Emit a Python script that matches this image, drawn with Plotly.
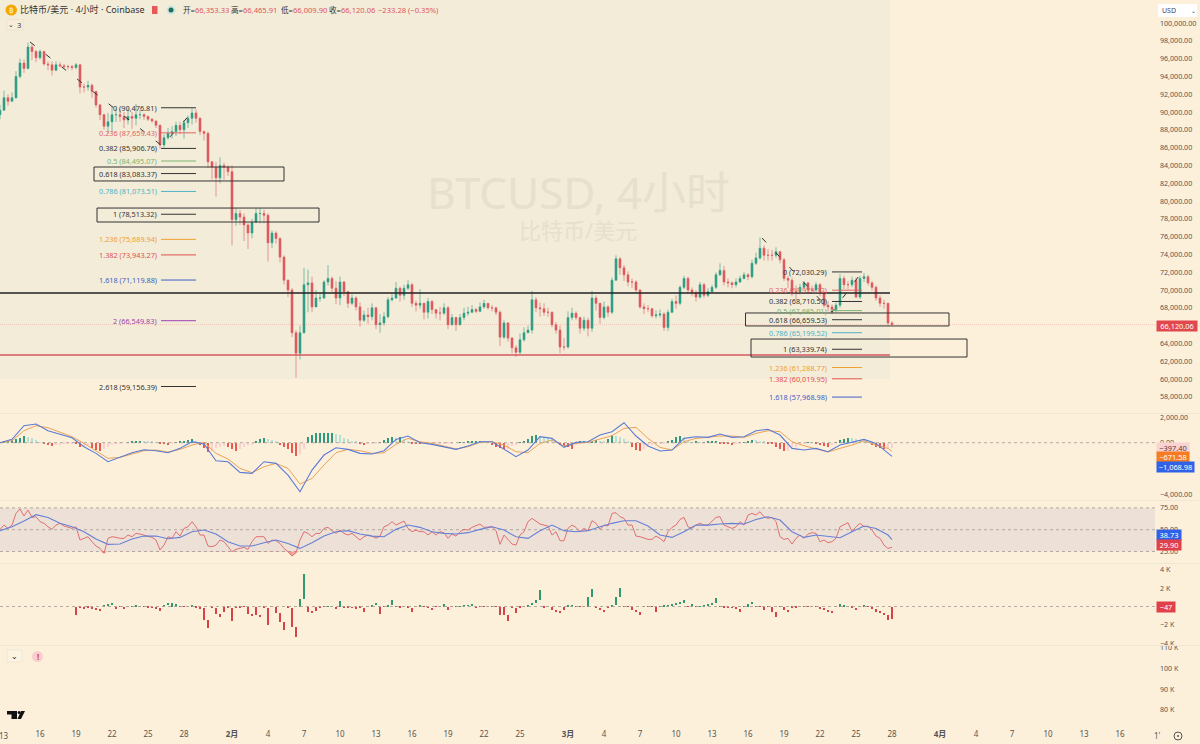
import numpy as np
import pandas as pd
import plotly.graph_objects as go

BG = "#fdf0db"
FONT = "Noto Sans, Noto Sans CJK SC"

# ---------- data: 8-hour candles (thousand USD) ----------
close_k = [
 90.2,91.6,91.2,91.6,94.0,95.5,94.9,97.3,96.8,96.1,
 96.8,95.4,95.3,94.7,95.3,95.2,95.1,95.1,95.0,95.3,
 92.8,92.8,93.0,92.3,90.8,89.7,88.4,88.9,89.7,89.7,
 89.5,89.1,89.5,89.3,89.7,89.7,89.5,89.2,89.0,88.5,
 86.3,87.1,87.6,87.8,88.5,88.0,88.8,89.3,89.9,89.3,
 87.8,87.6,84.4,83.8,82.6,84.0,83.8,83.3,77.9,78.6,
 78.2,77.3,76.4,77.6,78.6,78.6,78.4,75.3,76.4,75.8,
 73.7,71.1,70.0,65.2,62.9,65.2,70.6,70.8,68.1,69.1,
 69.1,70.9,71.3,70.2,69.1,70.9,69.8,68.5,69.1,68.1,
 66.6,67.2,67.0,68.0,66.1,66.3,67.0,68.9,69.1,70.2,
 69.4,70.2,70.6,68.5,68.3,68.5,67.5,68.7,67.8,67.4,
 67.4,68.0,66.1,66.9,66.1,66.9,67.4,67.5,67.8,67.6,
 68.1,68.5,68.0,68.0,67.5,64.7,66.3,64.6,63.5,63.0,
 64.4,65.2,65.5,68.9,68.0,67.9,67.5,67.5,66.1,65.5,
 63.6,63.6,66.9,67.4,66.9,65.7,66.6,65.7,69.1,68.5,
 66.9,68.1,67.5,71.1,73.5,72.5,71.7,70.9,70.9,70.0,
 68.1,67.9,67.9,67.1,67.2,67.3,65.8,67.5,68.7,68.5,
 70.3,71.3,70.0,69.7,69.2,70.6,69.4,69.8,70.3,71.7,
 72.2,70.9,70.8,70.6,70.9,71.3,71.7,71.5,73.0,73.6,
 74.7,73.9,73.9,73.9,74.3,73.4,71.3,71.1,69.8,69.8,
 70.3,70.8,70.0,70.0,70.6,69.7,68.3,68.1,67.8,68.3,
 71.3,70.6,70.6,71.1,69.2,71.3,71.5,70.8,70.3,69.1,
 68.5,68.5,66.3,66.12]
high_k = [
 90.8,92.4,92.0,92.2,94.6,96.0,95.9,97.8,97.6,97.0,
 97.0,96.9,95.7,95.7,95.7,95.6,95.4,95.3,95.3,95.5,
 95.4,93.2,93.5,93.2,92.4,90.9,89.8,89.9,90.6,90.4,
 90.3,90.0,90.5,90.0,90.9,90.2,89.9,89.6,89.3,89.0,
 88.6,87.5,88.2,88.4,88.9,88.9,89.1,89.6,90.4,90.3,
 89.4,87.9,87.8,84.5,84.4,84.9,84.3,84.0,84.0,79.2,
 79.0,78.6,77.5,78.0,79.2,79.2,79.0,78.6,76.7,76.6,
 75.9,73.9,71.2,70.2,65.5,66.0,72.5,72.3,71.5,70.0,
 69.7,71.1,72.8,71.5,71.0,71.5,71.0,69.9,69.5,69.3,
 68.6,67.7,68.0,68.5,68.1,67.3,67.5,69.2,69.6,70.9,
 70.4,70.6,71.1,70.8,68.8,70.1,68.6,69.1,68.9,67.8,
 68.1,68.5,68.2,67.3,67.0,67.3,68.0,68.1,68.3,68.0,
 68.6,68.9,68.5,68.3,68.1,67.7,66.6,66.4,64.7,63.8,
 65.1,65.8,66.0,69.9,69.2,68.6,68.5,68.0,67.6,66.4,
 66.0,64.6,67.6,68.0,67.6,67.0,67.0,66.9,69.9,69.4,
 68.6,68.7,68.3,71.4,73.9,73.7,72.8,72.1,71.3,71.1,
 70.1,68.5,68.3,68.0,67.7,67.8,67.5,67.8,69.0,69.4,
 70.5,71.6,71.5,70.3,70.0,70.9,70.8,70.2,70.6,72.0,
 73.0,72.7,71.3,71.0,71.3,71.6,72.0,71.9,73.4,74.2,
 75.9,75.0,74.6,74.5,74.8,74.4,73.6,71.6,71.4,70.5,
 70.7,71.0,70.9,70.5,70.9,70.8,69.9,68.7,68.4,68.6,
 71.8,71.6,71.0,71.5,71.4,71.6,71.9,71.7,71.0,70.5,
 69.4,68.9,68.6,66.5]
low_k = [
 89.2,90.9,90.7,91.2,91.5,93.8,94.4,94.8,95.8,95.6,
 95.9,95.2,94.7,94.1,94.6,95.0,94.9,94.8,94.7,94.8,
 92.1,92.2,92.4,91.6,90.5,89.1,88.0,87.6,87.7,88.9,
 88.9,88.2,88.6,88.1,88.5,89.2,89.1,89.0,88.8,88.2,
 85.9,86.0,86.9,87.0,87.3,87.5,87.0,88.2,88.6,88.8,
 87.4,86.8,83.7,82.4,80.5,82.0,82.4,82.8,75.0,77.2,
 77.3,75.5,74.6,75.8,77.8,77.5,77.5,73.2,74.7,75.2,
 73.1,70.6,69.2,64.7,60.1,62.2,65.1,67.5,67.5,68.2,
 68.7,69.0,70.5,69.7,68.4,68.3,69.3,68.0,68.3,67.7,
 65.9,66.4,66.2,66.6,65.6,65.2,66.0,66.8,68.7,69.0,
 68.7,68.9,70.0,68.1,67.6,67.9,66.7,66.8,67.3,66.8,
 66.6,67.2,65.6,66.0,65.4,66.0,66.6,67.1,67.4,67.4,
 67.5,67.9,67.8,67.6,67.2,63.7,64.5,64.2,62.9,62.5,
 62.8,64.2,65.2,65.1,67.5,67.0,67.1,67.0,65.8,65.1,
 62.9,63.2,63.4,66.6,66.6,65.1,65.4,64.8,65.3,67.7,
 66.2,66.7,67.0,67.3,71.2,71.7,71.0,70.4,70.2,69.7,
 67.9,67.3,67.5,66.9,66.8,66.9,65.4,65.4,67.4,67.9,
 68.3,70.1,69.6,69.3,68.7,69.0,69.1,69.2,69.9,70.1,
 71.6,70.5,70.3,70.2,70.3,70.8,71.2,71.1,71.3,72.8,
 73.4,73.3,73.3,73.3,73.6,73.0,71.0,70.2,69.3,68.9,
 69.5,70.1,69.6,69.6,69.8,69.3,68.0,67.6,67.3,67.5,
 68.0,70.1,70.1,70.3,69.1,69.0,70.9,70.5,69.9,68.8,
 68.1,67.9,66.0,66.0]
first_open_k = 89.7

# MACD (daily samples, last point = latest bar)
macd_line = [
 0,260,1326,1456,936,676,390,-312,-832,-1482,
 -1144,-780,-546,-624,-780,-442,78,-104,-1404,-1482,
 -2314,-2392,-1482,-1612,-2522,-3822,-2132,-962,-390,-520,
 -832,-884,-624,260,520,0,-130,-312,-520,-260,
 78,78,-520,-1092,-572,468,338,-364,26,78,
 598,858,1560,520,-260,-650,-572,338,468,416,
 676,416,468,936,1040,598,-442,-572,-442,-702,
 -182,26,260,-52,-780,-1068.98]
macd_signal = [
 0,156,936,1326,1170,806,468,-52,-624,-1222,
 -1144,-884,-624,-572,-728,-520,-182,26,-832,-1274,
 -2002,-2340,-1872,-1612,-2002,-3224,-2782,-1742,-780,-520,
 -624,-832,-780,-130,338,78,-52,-260,-494,-312,
 26,78,-182,-702,-780,-52,208,-260,-52,26,
 260,546,1118,1196,338,-364,-572,78,338,416,
 520,520,416,728,936,858,78,-234,-468,-728,
 -442,-182,156,-182,-442,-671.58]
macd_hist = [
 52,78,130,208,286,364,520,468,364,208,
 52,-78,-208,-286,-208,-156,-104,-78,-78,-104,
 -312,-260,-208,-416,-572,-624,-520,-312,-208,-104,
 -78,0,52,104,130,156,130,104,78,52,
 -52,-104,-208,-78,52,78,156,208,286,156,
 -156,-416,-702,-624,-416,-312,-260,-364,-468,-624,
 -468,-312,-208,-156,104,260,364,312,208,78,
 -208,-312,-468,-780,-1040,-910,-520,468,572,728,
 728,728,728,780,650,572,390,312,156,78,
 -104,-156,-104,-52,-26,52,208,364,416,364,
 468,312,156,-52,-104,-130,-130,-104,-156,-130,
 -104,-104,-78,-52,0,26,52,104,104,130,
 156,130,52,-156,-364,-416,-468,-468,-260,-156,
 52,104,260,520,572,520,468,364,260,52,
 -156,-260,-364,-468,-156,78,104,78,156,208,
 156,130,312,572,520,416,260,104,-364,-572,
 -624,-468,-260,-156,-104,-78,-78,78,208,416,
 520,364,104,52,78,52,52,78,78,104,
 -52,-78,-104,-208,-104,-52,52,156,208,182,
 130,78,-26,-104,-312,-520,-624,-624,-520,-364,
 -104,-78,52,26,-130,-208,-260,-312,-156,52,
 208,312,390,364,260,156,104,26,-156,-364,
 -416,-468,-416,-397.4]

# RSI (8-hour samples) and its moving average (daily samples)
rsi = [
 50.4,55.3,51.5,55.3,68.7,73.7,65.7,72.5,64.1,64.9,
 59.2,57.3,53.4,50.4,55.3,57.3,54.2,52.7,51.5,53.4,
 38.2,40.1,42.0,36.3,31.3,28.6,22.9,40.1,42.0,41.2,
 40.1,40.1,43.9,42.0,45.8,45.0,43.5,42.7,41.2,38.2,
 26.7,32.4,42.0,40.1,47.7,42.7,51.5,53.4,59.2,53.4,
 43.9,43.9,31.3,30.5,32.4,38.2,36.3,30.5,24.8,27.5,
 28.6,29.8,27.5,36.3,42.0,42.0,42.0,34.3,38.2,37.4,
 34.3,28.6,24.8,19.8,23.6,38.2,47.7,45.8,42.0,45.8,
 45.8,51.5,52.7,48.9,45.8,49.6,45.8,43.9,45.8,42.0,
 38.2,42.0,43.9,42.7,40.1,42.7,53.4,55.3,59.2,55.3,
 58.0,59.9,51.5,47.7,49.6,47.7,47.7,43.9,47.7,43.9,
 47.7,46.6,40.1,45.0,42.7,47.7,50.4,49.6,52.7,54.2,
 56.5,52.7,52.7,53.4,48.9,33.2,43.9,38.2,33.6,32.4,
 43.9,47.7,59.2,63.0,59.2,56.5,55.3,54.2,43.9,47.7,
 37.4,37.4,51.5,55.3,52.7,47.7,51.5,48.9,60.3,57.3,
 50.4,55.3,54.2,68.7,69.5,64.9,63.0,55.3,55.3,42.7,
 42.0,40.1,38.9,38.9,42.7,40.1,36.3,47.7,52.7,55.3,
 61.8,64.1,53.4,51.5,55.3,57.3,55.3,55.3,59.2,64.1,
 64.9,55.3,53.4,51.5,53.4,59.2,55.3,66.8,68.7,66.8,
 70.6,64.9,63.0,64.1,59.2,42.0,38.9,40.1,33.6,40.1,
 43.9,40.1,45.0,46.6,45.8,36.3,38.2,35.1,36.3,40.1,
 53.4,55.3,58.0,47.7,53.4,57.3,53.4,54.2,49.6,42.7,
 40.1,32.4,28.5,29.9]
rsi_ma = [
 48.9,53.4,59.9,67.2,64.1,57.3,53.4,47.7,39.3,33.2,
 33.6,39.3,42.7,42.7,39.7,41.2,47.7,49.6,45.0,36.3,
 31.3,31.3,35.1,38.2,34.3,28.6,35.1,42.7,47.7,48.9,
 45.0,42.7,42.0,50.4,55.3,52.7,47.7,45.8,45.0,46.6,
 50.4,53.4,49.6,42.0,40.1,48.9,55.3,48.9,47.7,48.9,
 53.4,57.3,60.3,60.3,54.2,43.9,41.2,47.7,55.3,55.3,
 56.5,57.3,56.5,61.8,64.9,61.1,47.7,41.2,43.9,42.7,
 40.8,47.7,54.2,51.5,43.9,38.73]

# CVD-style cumulative delta per 8-hour bar, from Jan 15 onward
cvd = [
 0,-874,-109,-218,-146,-218,-291,-400,146,255,400,-255,-36,-291,-36,36,109,-36,-36,-73,
 -109,-218,-546,182,400,400,255,-36,-36,36,73,-109,-182,-1492,-2400,-109,-837,-1201,-582,-109,
 -1565,-109,-109,-36,-837,-1056,-946,-1128,-109,-2038,-36,-764,-1674,-2584,-218,-2220,-3312,874,3604,-582,
 -655,-546,-218,-36,36,-36,-255,619,-109,-109,-146,-218,-109,-582,-36,146,400,-837,-36,218,
 692,-36,-109,36,-109,-582,-36,146,-36,-218,-400,-36,-36,255,-400,-36,-36,36,73,146,
 218,-109,-36,-36,-36,-36,-36,-946,-946,-1565,-218,-764,-218,-36,146,400,692,1784,-109,-36,
 -328,-582,-764,-400,146,146,-36,-36,-36,1056,1966,-218,-400,-582,-109,146,1056,2075,-36,-36,
 -328,-582,-946,-36,-36,-36,-582,36,146,146,255,328,400,692,-36,328,-36,36,146,218,
 400,946,-36,-109,-109,-146,-255,-619,-36,255,510,-36,-36,-328,-36,-582,-1201,-36,-400,-582,
 -218,-109,-36,-36,-36,36,-36,-255,-328,-582,-764,-36,328,146,-36,-218,-400,36,218,-36,
 -255,-582,-764,-946,-1492,-1420]

# Fibonacci levels
fib_a_ratio = ["0","0.236","0.382","0.5","0.618","0.786","1","1.236","1.382","1.618","2","2.618"]
fib_a_price = [90476.81,87659.43,85906.76,84495.07,83083.37,81073.51,78513.32,75689.94,73943.27,71119.88,66549.83,59156.39]
fib_a_color = ["#333333","#e06666","#333333","#7cb56e","#333333","#4fb3c4","#333333","#f0a030","#e05050","#3f5fc8","#9c3fb0","#333333"]
fib_b_ratio = ["0","0.236","0.382","0.5","0.618","0.786","1","1.236","1.382","1.618"]
fib_b_price = [72030.29,69979.32,68710.50,67685.01,66659.53,65199.52,63339.74,61288.77,60019.95,57968.98]
fib_b_color = ["#333333","#e06666","#333333","#7cb56e","#333333","#4fb3c4","#333333","#f0a030","#e05050","#3f5fc8"]
fib_a_span = ["2026-01-26 02:00","2026-01-29 00:00"]
fib_b_span = ["2026-03-23 00:00","2026-03-25 12:00"]

# Drawn levels and boxes
level_black = 69663
level_red = 62697
drawn_end = "2026-03-27 20:00"
boxes_x0 = ["2026-01-20 12:00","2026-01-20 18:00","2026-03-15 19:00","2026-03-16 06:00"]
boxes_x1 = ["2026-02-05 08:00","2026-02-08 06:00","2026-04-01 18:00","2026-04-03 06:00"]
boxes_p0 = [82250,77640,65960,62470]
boxes_p1 = [83820,79210,67420,64490]
swing_a_t = ["2026-01-15 04:00","2026-01-26 04:00","2026-01-29 00:00"]
swing_a_p = [97870,86200,90477]
swing_b_t = ["2026-03-17 04:00","2026-03-23 00:00","2026-03-25 12:00"]
swing_b_p = [75840,67500,72030]

last_price = 66120.06

# Time axis ticks
tick_dates = ["2026-01-16","2026-01-19","2026-01-22","2026-01-25","2026-01-28",
              "2026-02-01","2026-02-04","2026-02-07","2026-02-10","2026-02-13","2026-02-16",
              "2026-02-19","2026-02-22","2026-02-25",
              "2026-03-01","2026-03-04","2026-03-07","2026-03-10","2026-03-13","2026-03-16",
              "2026-03-19","2026-03-22","2026-03-25","2026-03-28",
              "2026-04-01","2026-04-04","2026-04-07","2026-04-10","2026-04-13","2026-04-16"]
tick_text = ["16","19","22","25","28","<b>2月</b>","4","7","10","13","16","19","22","25",
             "<b>3月</b>","4","7","10","13","16","19","22","25","28","<b>4月</b>","4","7","10","13","16"]

# ---------- derived ----------
close = np.array(close_k) * 1000
high = np.array(high_k) * 1000
low = np.array(low_k) * 1000
open_ = np.r_[first_open_k * 1000, close[:-1]]
t8 = pd.date_range("2026-01-12 16:00", periods=len(close), freq="8h")
tday = list(pd.date_range("2026-01-12 16:00", periods=len(macd_line) - 1, freq="24h")) + [t8[-1]]

hist = np.array(macd_hist, float)
hprev = np.r_[0, hist[:-1]]
hcol = ["#2f9a80" if h >= 0 and h >= p else "#b5e0d6" if h >= 0 else "#ea5a50" if h < p else "#fbd0d0"
        for h, p in zip(hist, hprev)]

cv = np.array(cvd, float)
cprev = np.r_[0, cv[:-1]]
cbase = np.where((np.sign(cv) == np.sign(cprev)) & (np.abs(cv) > np.abs(cprev)), cprev, 0)
ccol = ["#2f9a70" if c > b else "#d8434a" for c, b in zip(cv, cbase)]
tc = t8[-len(cv):]

X0 = pd.Timestamp("2026-01-12 16:00")
X1 = pd.Timestamp("2026-04-18 22:00")

def px(x): return x / 1200
def py(y): return 1 - y / 744
def dom(a, b): return [py(b), py(a)]

fig = go.Figure()

# main pane
def seg(x, y, color, width=1, dash=None, yaxis="y"):
    fig.add_trace(go.Scatter(x=x, y=y, mode="lines", yaxis=yaxis, hoverinfo="skip", showlegend=False,
                             line=dict(color=color, width=width, dash=dash)))

seg([X0, X1], [last_price] * 2, "rgba(224,90,90,0.4)", 0.6, "1px,1px")
seg(swing_a_t, swing_a_p, "#333333", 1, "6px,14px")
seg(swing_b_t, swing_b_p, "#333333", 1, "6px,14px")

fig.add_trace(go.Candlestick(x=t8, open=open_, high=high, low=low, close=close, yaxis="y", showlegend=False,
    increasing=dict(line=dict(color="#2f9e85", width=0.6), fillcolor="#2f9e85"),
    decreasing=dict(line=dict(color="#dd5a5e", width=0.6), fillcolor="#dd5a5e"), whiskerwidth=0))

for p, c in zip(fib_a_price, fib_a_color):
    seg(fib_a_span, [p, p], c, 1)
for p, c in zip(fib_b_price, fib_b_color):
    seg(fib_b_span, [p, p], c, 1)
seg([X0, drawn_end], [level_black] * 2, "#222222", 1.4)
seg([X0, drawn_end], [level_red] * 2, "#d9575f", 1.7)

# MACD pane
fig.add_trace(go.Bar(x=t8, y=hist, yaxis="y2", marker=dict(color=hcol, line=dict(width=0)),
                     width=1000 * 3600 * 4, showlegend=False, hoverinfo="skip"))
seg([X0, X1], [0, 0], "#aaa39a", 0.9, "3px,3px", "y2")
seg(tday, macd_signal, "#e8a35a", 1, None, "y2")
seg(tday, macd_line, "#5a7bd6", 1.1, None, "y2")

# RSI pane
fig.add_trace(go.Scatter(x=[X0, X1, X1, X0], y=[25, 25, 75, 75], fill="toself", yaxis="y3", mode="none",
                         fillcolor="#ede1d7", showlegend=False, hoverinfo="skip"))
for lv in (75, 50, 25):
    seg([X0, X1], [lv, lv], "#aaa39a", 0.9, "3px,3px", "y3")
fig.add_trace(go.Scatter(x=t8, y=[25] * len(t8), mode="lines", line=dict(width=0), yaxis="y3",
                         showlegend=False, hoverinfo="skip"))
fig.add_trace(go.Scatter(x=t8, y=np.minimum(rsi, 25), mode="lines", line=dict(width=0), yaxis="y3", fill="tonexty",
                         fillcolor="rgba(224,70,70,0.45)", showlegend=False, hoverinfo="skip"))
seg(t8, rsi, "#e07070", 1, None, "y3")
seg(tday, rsi_ma, "#6680d8", 1.1, None, "y3")

# CVD pane
seg([X0, X1], [0, 0], "#aaa39a", 0.9, "3px,3px", "y4")
fig.add_trace(go.Bar(x=tc, y=cv - cbase, base=cbase, yaxis="y4", marker=dict(color=ccol, line=dict(width=0)),
                     width=1000 * 3600 * 4.5, showlegend=False, hoverinfo="skip"))

# empty pane carrying only its scale
fig.add_trace(go.Scatter(x=[X0], y=[90], yaxis="y5", mode="none", showlegend=False, hoverinfo="skip"))

tickf = dict(family=FONT, size=7.1, color="#555555")
common = dict(side="right", anchor="x", showgrid=False, zeroline=False, showline=False, ticks="",
              tickfont=tickf, fixedrange=True, ticklabelstandoff=4)

fig.update_layout(
    width=1200, height=744, autosize=False, margin=dict(l=0, r=0, t=0, b=0, pad=0, autoexpand=False),
    paper_bgcolor=BG, plot_bgcolor=BG, showlegend=False, barmode="overlay", bargap=0,
    font=dict(family=FONT),
    xaxis=dict(type="date", domain=[0, px(1155)], range=[X0, X1], anchor="y5", rangeslider=dict(visible=False),
               showgrid=False, zeroline=False, showline=False, ticks="", tickmode="array", ticklabelstandoff=6,
               tickvals=tick_dates, ticktext=tick_text, tickangle=0, tickfont=dict(family=FONT, size=8, color="#555555")),
    yaxis=dict(domain=dom(0, 413), range=[56180, 102585], tickmode="array", tickvals=list(range(58000, 100001, 2000)),
               tickformat=",.2f", **common),
    yaxis2=dict(domain=dom(414, 500), range=[-4466, 2237], tickmode="array", tickvals=[-4000, 0, 2000],
                tickformat=",.2f", **common),
    yaxis3=dict(domain=dom(501, 564), range=[10.7, 82.9], tickmode="array", tickvals=[25, 50, 75],
                tickformat=".2f", **common),
    yaxis4=dict(domain=dom(564, 645), range=[-4208, 4645], tickmode="array", tickvals=[-4000, -2000, 2000, 4000],
                ticktext=["−4 K", "−2 K", "2 K", "4 K"], **common),
    yaxis5=dict(domain=dom(646, 722), range=[74.2, 110.9], tickmode="array", tickvals=[80, 90, 100, 110],
                ticktext=["80 K", "90 K", "100 K", "110 K"], **common),
)

shapes = []
shapes.append(dict(type="rect", xref="x", yref="y", x0=X0, x1=drawn_end, y0=60000, y1=102585,
                   fillcolor="#f3ecd9", line=dict(width=0), layer="below"))
for a, b, c, d in zip(boxes_x0, boxes_x1, boxes_p0, boxes_p1):
    shapes.append(dict(type="rect", xref="x", yref="y", x0=a, x1=b, y0=c, y1=d,
                       fillcolor="rgba(0,0,0,0)", line=dict(color="#333333", width=1)))
for y in (413.5, 500.5, 563.5, 645.5):
    shapes.append(dict(type="line", xref="paper", yref="paper", x0=0, x1=1, y0=py(y), y1=py(y),
                       line=dict(color="#f0e6d2", width=1)))

def paper_rect(x0, y0, x1, y1, fill, line=None, kind="rect"):
    shapes.append(dict(type=kind, xref="paper", yref="paper", x0=px(x0), x1=px(x1), y0=py(y1), y1=py(y0),
                       fillcolor=fill, line=dict(color=line or fill, width=1 if line else 0)))

paper_rect(5.5, 4.5, 17, 15.5, "#f7a600", kind="circle")
paper_rect(152, 6, 157.5, 14, "#e8575a")
paper_rect(166.5, 5.5, 175.5, 14.5, "#cfe6df", kind="circle")
paper_rect(168.5, 7.5, 173.5, 12.5, "#1f6f5c", kind="circle")
paper_rect(7, 19.5, 23, 30, "#f8edd8", "#eee3cf")
paper_rect(7, 650, 22, 662, "#fdf3e3", "#efe6d5")
paper_rect(32, 651, 43, 662, "#f8cfcf", kind="circle")
paper_rect(1158, 4, 1197, 17, "#ffffff")
paper_rect(1174, 732, 1182, 740, BG, "#555555", kind="circle")
paper_rect(1177, 735, 1179, 737, "#555555", kind="circle")
paper_rect(7, 711, 17, 714.5, "#111111")
paper_rect(11.5, 711, 17, 719, "#111111")
paper_rect(17.6, 711, 20.6, 714, "#111111", kind="circle")
shapes.append(dict(type="path", xref="paper", yref="paper", fillcolor="#111111", line=dict(width=0),
                   path=f"M {px(21)} {py(711)} L {px(25)} {py(711)} L {px(21)} {py(719)} L {px(17.5)} {py(719)} Z"))
fig.update_layout(shapes=shapes)

ann = []
def txt(x, y, s, color="#333333", size=8, anchor="left", bg=None, w=None, **kw):
    d = dict(xref="paper", yref="paper", x=px(x), y=py(y), text=s, showarrow=False, xanchor=anchor, yanchor="middle",
             font=dict(family=FONT, size=size, color=color))
    if bg:
        d.update(bgcolor=bg, borderpad=0)
    if w:
        d.update(width=w, align="center")
    d.update(kw)
    ann.append(d)

txt(578, 192, "BTCUSD, 4小时", "#e6e0cd", 44, "center")
txt(578, 230, "比特币/美元", "#e6e0cd", 22, "center")
txt(18, 10, "比特币/美元 · 4小时 · Coinbase", "#333333", 9)
txt(11.2, 10, "₿", "#ffffff", 7.5, "center")
R = "#e0575c"
for x, lab, val in [(181, "开", "66,353.33"), (229, "高", "66,465.91"), (279, "低", "66,009.90"), (327, "收", "66,120.06")]:
    txt(x, 10, f"<span style='color:#333333'>{lab}=</span>{val}", R, 7.6)
txt(376, 10, "−233.28 (−0.35%)", R, 7.6)
txt(11, 25, "⌄", "#333333", 7, "center")
txt(19, 25, "3", "#333333", 7.5, "center")
txt(14.5, 655, "⌄", "#222222", 8, "center")
txt(37.5, 656.5, "<b>!</b>", "#d9434a", 8, "center")
txt(1159.5, 10.5, "USD", "#444466", 7)
txt(1193, 10.5, "⌄", "#444466", 6, "center")
txt(4, 735.5, "13", "#555555", 8, "center")
txt(1152, 735.5, "1'", "#555555", 8)

for ratio, p, c in zip(fib_a_ratio, fib_a_price, fib_a_color):
    ann.append(dict(xref="x", yref="y", x=fib_a_span[0], y=p, xanchor="right", yanchor="middle", xshift=-2, showarrow=False,
                    text=f"{ratio} ({p:,.2f})", font=dict(family=FONT, size=7.3, color=c)))
for ratio, p, c in zip(fib_b_ratio, fib_b_price, fib_b_color):
    ann.append(dict(xref="x", yref="y", x=fib_b_span[0], y=p, xanchor="right", yanchor="middle", xshift=-3, showarrow=False,
                    text=f"{ratio} ({p:,.2f})", font=dict(family=FONT, size=7.3, color=c)))

txt(1156, 325.5, f"{last_price:,.2f}", "#ffffff", 7.4, bg="#e0484e", w=40)
txt(1155.5, 448, "−397.40", "#5a3a3a", 7.4, bg="#f9d2d2", w=32)
txt(1155.5, 457.5, "−671.58", "#ffffff", 7.4, bg="#f57c22", w=32)
txt(1155.5, 467, "−1,068.98", "#ffffff", 7.4, bg="#2f62e8", w=37)
txt(1155.5, 534.5, "38.73", "#ffffff", 7.4, bg="#2f62e8", w=24)
txt(1155.5, 544.5, "29.90", "#ffffff", 7.4, bg="#e0404a", w=24)
txt(1155.5, 607, "−47", "#ffffff", 7.4, bg="#e0404a", w=18)
fig.update_layout(annotations=ann)

fig.write_html("out.html", config=dict(displayModeBar=False),
               post_script=f"document.body.style.margin='0';document.body.style.background='{BG}';")
